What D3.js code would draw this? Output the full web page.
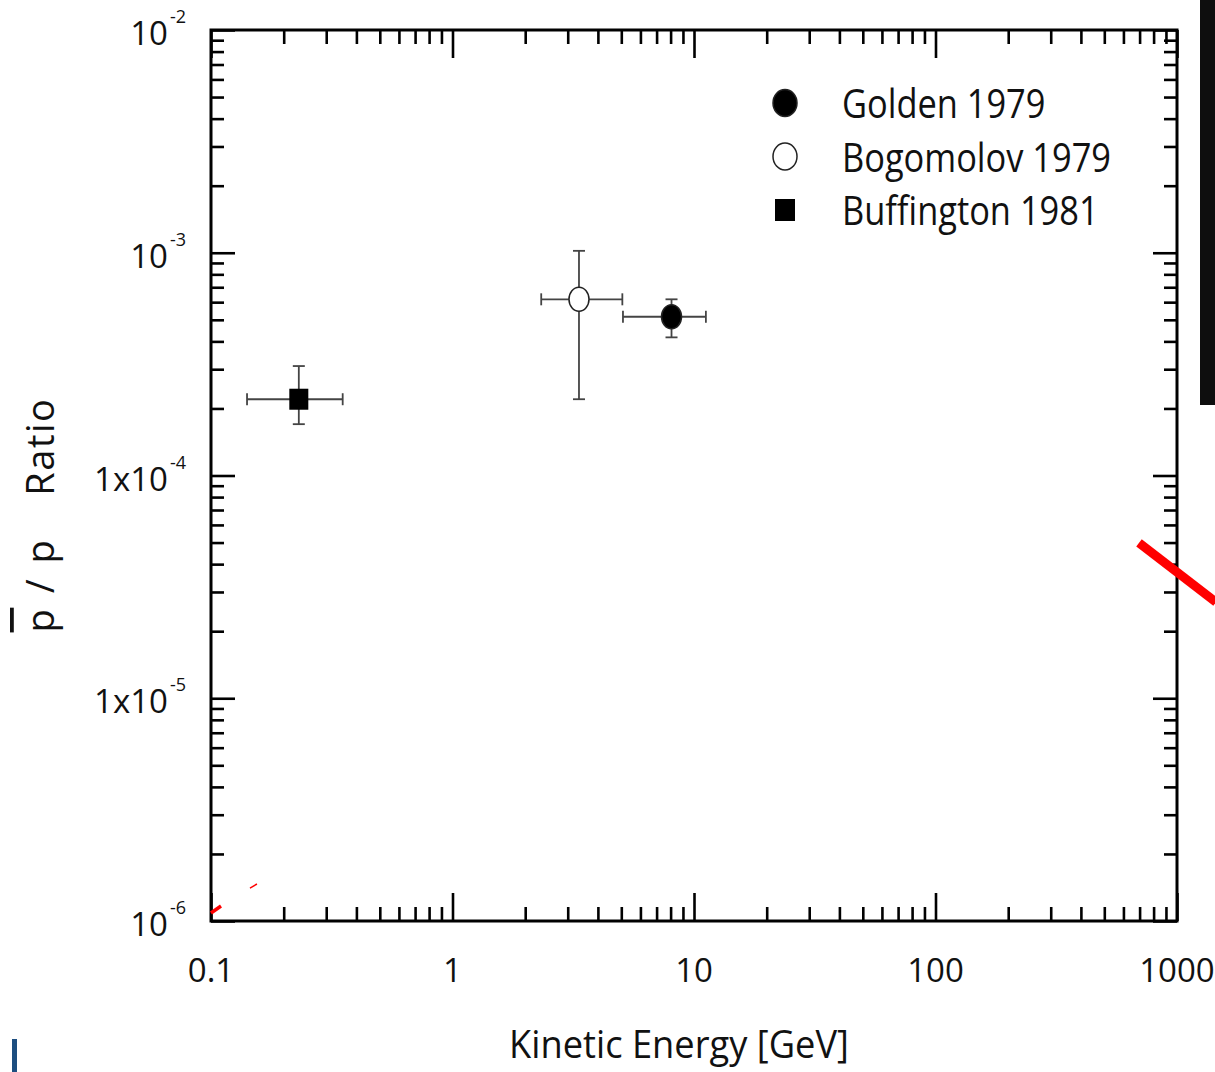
<!DOCTYPE html>
<html>
<head>
<meta charset="utf-8">
<script src="https://cdn.jsdelivr.net/npm/d3@7"></script>
<style>
  body { margin: 0; background: #fff; }
  svg { display: block; }
  text { font-family: "Open Sans", sans-serif; fill: #111; }
</style>
</head>
<body>
<svg id="chart"></svg>
<script>
var seriesNames = ['Golden 1979', 'Bogomolov 1979', 'Buffington 1981'];
var seriesSymbols = ['filled', 'open', 'square'];
var energy     = [8.07, 3.34, 0.231];
var energyLow  = [5.08, 2.33, 0.141];
var energyHigh = [11.2, 5.05, 0.351];
var ratio      = [5.16e-4, 6.18e-4, 2.20e-4];
var ratioLow   = [4.17e-4, 2.20e-4, 1.70e-4];
var ratioHigh  = [6.18e-4, 1.02e-3, 3.10e-4];

// tick labels
var xTickValues = [0.1, 1, 10, 100, 1000];
var xTickLabels = ['0.1', '1', '10', '100', '1000'];
var yTickValues = [1e-2, 1e-3, 1e-4, 1e-5, 1e-6];
var yTickMantissa = ['10', '10', '1x10', '1x10', '10'];
var yTickExponent = ['-2', '-3', '-4', '-5', '-6'];

// bits of a red curve from the slide that show through
var overlayEnergy = [[696, 1451], [0.1, 0.110], [0.145, 0.155]];
var overlayRatio  = [[4.98e-5, 2.70e-5], [1.086e-6, 1.167e-6], [1.406e-6, 1.466e-6]];
var overlayWidth  = [9, 3.5, 1.5];

// layout
var W = 1215, H = 1072;
var margin = {top: 30, right: 38, bottom: 151, left: 211};
var width = W - margin.left - margin.right;
var height = H - margin.top - margin.bottom;

var svg = d3.select('#chart')
  .attr('width', W)
  .attr('height', H);

var g = svg.append('g')
  .attr('transform', 'translate(' + margin.left + ',' + margin.top + ')');

var x = d3.scaleLog().domain([0.1, 1000]).range([0, width]);
var y = d3.scaleLog().domain([1e-6, 1e-2]).range([height, 0]);

// every 1..9 tick per decade
function decadeTicks(lo, hi) {
  var t = [];
  for (var p = Math.log10(lo); p < Math.log10(hi); p++) {
    for (var k = 1; k < 10; k++) t.push(k * Math.pow(10, p));
  }
  t.push(hi);
  return t;
}
function isMajor(v) {
  var l = Math.log10(v);
  return Math.abs(l - Math.round(l)) < 1e-6;
}

var xTicks = decadeTicks(0.1, 1000);
var yTicks = decadeTicks(1e-6, 1e-2);

function styleAxis(sel, majorLen, minorLen, attr, sign) {
  sel.select('.domain').remove();
  sel.selectAll('text').remove();
  sel.selectAll('.tick line')
    .attr('stroke', '#000')
    .attr('stroke-width', 2.6)
    .attr(attr, function(d) { return sign * (isMajor(d) ? majorLen : minorLen); });
}

g.append('g')
  .attr('transform', 'translate(0,' + height + ')')
  .call(d3.axisBottom(x).tickValues(xTicks).tickSizeOuter(0))
  .call(styleAxis, 28, 14, 'y2', -1);
g.append('g')
  .call(d3.axisTop(x).tickValues(xTicks).tickSizeOuter(0))
  .call(styleAxis, 28, 14, 'y2', 1);
g.append('g')
  .call(d3.axisLeft(y).tickValues(yTicks).tickSizeOuter(0))
  .call(styleAxis, 24, 13, 'x2', 1);
g.append('g')
  .attr('transform', 'translate(' + width + ',0)')
  .call(d3.axisRight(y).tickValues(yTicks).tickSizeOuter(0))
  .call(styleAxis, 24, 13, 'x2', -1);

// frame
g.append('rect')
  .attr('width', width)
  .attr('height', height)
  .attr('fill', 'none')
  .attr('stroke', '#000')
  .attr('stroke-width', 3);

// x tick labels
g.selectAll('text.xlab')
  .data(xTickValues)
  .enter()
  .append('text')
    .attr('class', 'xlab')
    .attr('x', function(d) { return x(d); })
    .attr('y', height + 61)
    .attr('text-anchor', 'middle')
    .style('font-size', '33px')
    .text(function(d, i) { return xTickLabels[i]; });

// y tick labels with superscript exponent
var ylab = g.selectAll('text.ylab')
  .data(yTickValues)
  .enter()
  .append('text')
    .attr('class', 'ylab')
    .attr('x', -25)
    .attr('y', function(d) { return y(d) + 15; })
    .attr('text-anchor', 'end');
ylab.append('tspan')
  .style('font-size', '33px')
  .text(function(d, i) { return yTickMantissa[i]; });
ylab.append('tspan')
  .attr('dy', -22)
  .attr('dx', 2)
  .style('font-size', '18px')
  .text(function(d, i) { return yTickExponent[i]; });

// red overlay pieces
var overlayLine = d3.line()
  .x(function(d) { return x(d[0]); })
  .y(function(d) { return y(d[1]); });
overlayEnergy.forEach(function(es, i) {
  g.append('path')
    .datum(es.map(function(e, j) { return [e, overlayRatio[i][j]]; }))
    .attr('d', overlayLine)
    .attr('fill', 'none')
    .attr('stroke', '#ff0000')
    .attr('stroke-width', overlayWidth[i]);
});

// data points with error bars
var points = seriesNames.map(function(name, i) {
  return {
    name: name, symbol: seriesSymbols[i],
    e: energy[i], eLo: energyLow[i], eHi: energyHigh[i],
    r: ratio[i], rLo: ratioLow[i], rHi: ratioHigh[i]
  };
});

var cap = 6;
var errColor = '#444';
var pt = g.selectAll('g.point')
  .data(points)
  .enter()
  .append('g')
    .attr('class', 'point');

pt.append('line')
  .attr('x1', function(d) { return x(d.eLo); })
  .attr('x2', function(d) { return x(d.eHi); })
  .attr('y1', function(d) { return y(d.r); })
  .attr('y2', function(d) { return y(d.r); });
pt.append('line')
  .attr('x1', function(d) { return x(d.e); })
  .attr('x2', function(d) { return x(d.e); })
  .attr('y1', function(d) { return y(d.rLo); })
  .attr('y2', function(d) { return y(d.rHi); });
['eLo', 'eHi'].forEach(function(k) {
  pt.append('line')
    .attr('x1', function(d) { return x(d[k]); })
    .attr('x2', function(d) { return x(d[k]); })
    .attr('y1', function(d) { return y(d.r) - cap; })
    .attr('y2', function(d) { return y(d.r) + cap; });
});
['rLo', 'rHi'].forEach(function(k) {
  pt.append('line')
    .attr('x1', function(d) { return x(d.e) - cap; })
    .attr('x2', function(d) { return x(d.e) + cap; })
    .attr('y1', function(d) { return y(d[k]); })
    .attr('y2', function(d) { return y(d[k]); });
});
pt.selectAll('line')
  .attr('stroke', errColor)
  .attr('stroke-width', 1.8);

function drawSymbol(sel, symbol, cx, cy, rx, ry) {
  if (symbol === 'square') {
    sel.append('rect')
      .attr('x', cx - rx).attr('y', cy - ry)
      .attr('width', 2 * rx).attr('height', 2 * ry)
      .attr('fill', '#000');
  } else {
    sel.append('ellipse')
      .attr('cx', cx).attr('cy', cy)
      .attr('rx', rx).attr('ry', ry)
      .attr('fill', symbol === 'filled' ? '#000' : '#fff')
      .attr('stroke', '#222')
      .attr('stroke-width', 1.5);
  }
}

pt.each(function(d) {
  var s = d3.select(this);
  if (d.symbol === 'square') drawSymbol(s, 'square', x(d.e), y(d.r), 9.5, 10.5);
  else drawSymbol(s, d.symbol, x(d.e), y(d.r), 10, 12);
});

// legend
var legend = svg.append('g').attr('transform', 'translate(785,103)');
seriesNames.forEach(function(name, i) {
  var row = legend.append('g').attr('transform', 'translate(0,' + (i * 53.5) + ')');
  if (seriesSymbols[i] === 'square') drawSymbol(row, 'square', 0, 0, 10, 11);
  else drawSymbol(row, seriesSymbols[i], 0, 0, 12, 13.5);
  var t = row.append('text')
    .attr('x', 57)
    .attr('y', 15)
    .style('font-size', '40px')
    .text(name);
  t.attr('textLength', t.node().getComputedTextLength() * 0.86)
    .attr('lengthAdjust', 'spacingAndGlyphs');
});

// axis titles
var xt = svg.append('text')
  .attr('x', 679)
  .attr('y', 1058)
  .attr('text-anchor', 'middle')
  .style('font-size', '39px')
  .text('Kinetic Energy [GeV]');
xt.attr('textLength', xt.node().getComputedTextLength() * 0.93)
  .attr('lengthAdjust', 'spacingAndGlyphs');

var yt = svg.append('text')
  .attr('transform', 'translate(54,515) rotate(-90)')
  .attr('text-anchor', 'middle')
  .style('font-size', '38px')
  .style('letter-spacing', '1.5px')
  .style('word-spacing', '3px')
  .style('white-space', 'pre');
yt.append('tspan').style('text-decoration', 'overline').text('p');
yt.append('tspan').text(' / p   Ratio');

// slide edges showing around the figure
svg.append('rect')
  .attr('x', 1200).attr('y', 0)
  .attr('width', 15).attr('height', 405)
  .attr('fill', '#0e0e0e');
svg.append('rect')
  .attr('x', 12).attr('y', 1039)
  .attr('width', 5).attr('height', 33)
  .attr('fill', '#1d4e80');
</script>
</body>
</html>
